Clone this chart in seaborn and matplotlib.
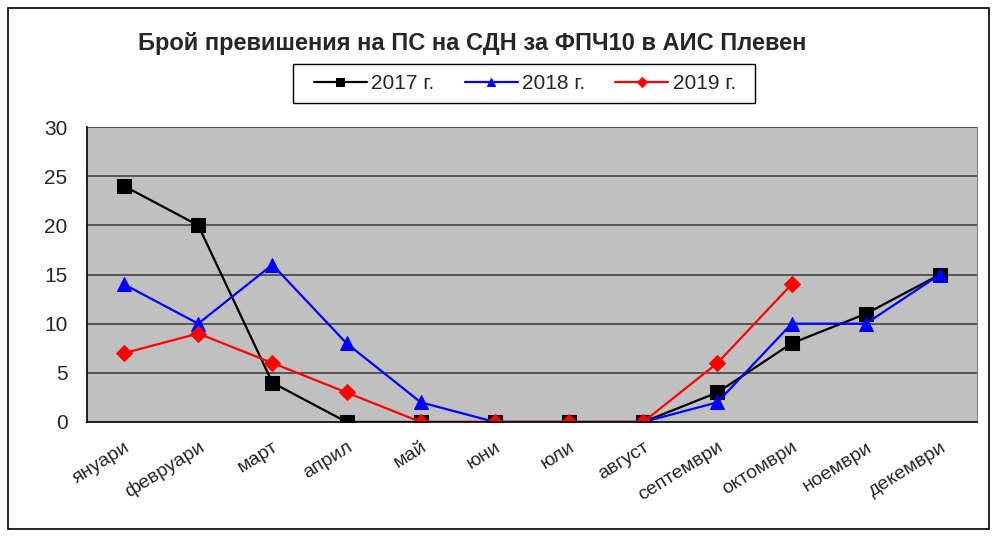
import numpy as np
import pandas as pd
import matplotlib
matplotlib.use("Agg")
import matplotlib.pyplot as plt
import seaborn as sns
from matplotlib.patches import Rectangle

# data
months = ["януари", "февруари", "март", "април", "май", "юни",
          "юли", "август", "септември", "октомври", "ноември", "декември"]
y2017 = [24, 20, 4, 0, 0, 0, 0, 0, 3, 8, 11, 15]
y2018 = [14, 10, 16, 8, 2, 0, 0, 0, 2, 10, 10, 15]
y2019 = [7, 9, 6, 3, 0, 0, 0, 0, 6, 14, np.nan, np.nan]
series_names = ["2017 г.", "2018 г.", "2019 г."]
y_ticks = [0, 5, 10, 15, 20, 25, 30]

sns.set_style("white")
plt.rcParams['font.family'] = ['Liberation Sans', 'DejaVu Sans']

fig = plt.figure(figsize=(9.96, 5.36), dpi=100)
ax = fig.add_axes([0.0873, 0.2127, 0.8937, 0.5503])
ax.set_facecolor('#c0c0c0')

# outer chart border
fig.patches.append(Rectangle((0.008, 0.013), 0.985, 0.972, transform=fig.transFigure,
                             fill=False, edgecolor='black', linewidth=1.2))
# legend box (drawn by hand so the side padding can be wider than the top/bottom)
fig.patches.append(Rectangle((0.294, 0.808), 0.464, 0.072, transform=fig.transFigure,
                             fill=True, facecolor='white', edgecolor='black',
                             linewidth=1.0, zorder=-1))

x = np.arange(len(months))
styles = [
    (y2017, 'black', 's', 10.5),
    (y2018, '#0000ff', '^', 10),
    (y2019, '#ff0000', 'D', 8.5),
]
for (vals, col, mk, ms), name in zip(styles, series_names):
    sns.lineplot(x=x, y=vals, ax=ax, color=col, marker=mk, markersize=ms,
                 markeredgecolor=col, linewidth=1.6, label=name, sort=False)

# gridlines
for v in y_ticks[1:]:
    ax.axhline(v, color='#555555', linewidth=1.4, zorder=0.5)

ax.set_xlim(-0.5, 11.5)
ax.set_ylim(0, 30)
ax.set_yticks(y_ticks)
ax.set_xticks(x)
ax.set_xticks(np.arange(-0.5, 12, 1), minor=True)
ax.set_xticklabels(months, rotation=32, ha='right', rotation_mode='anchor', fontsize=14)
ax.tick_params(axis='x', which='major', length=0, pad=12)
ax.tick_params(axis='x', which='minor', length=5, color='black', direction='out')
ax.tick_params(axis='y', length=5, color='black', direction='out', labelsize=15, pad=9)
ax.set_xlabel('')
ax.set_ylabel('')

for s in ['left', 'bottom']:
    ax.spines[s].set_color('black')
    ax.spines[s].set_linewidth(1.2)
ax.spines['right'].set_color('#808080')
ax.spines['top'].set_visible(False)

fig.text(0.474, 0.918, "Брой превишения на ПС на СДН за ФПЧ10 в АИС Плевен",
         ha='center', va='center', fontsize=17, fontweight='bold')

leg = ax.legend(loc='center', bbox_to_anchor=(0.527, 0.844), bbox_transform=fig.transFigure,
                ncol=3, frameon=False, fontsize=15,
                handlelength=2.55, handletextpad=0.2, columnspacing=1.45, borderpad=0.45,
                markerscale=0.6)

fig.savefig("out.png", dpi=100)
